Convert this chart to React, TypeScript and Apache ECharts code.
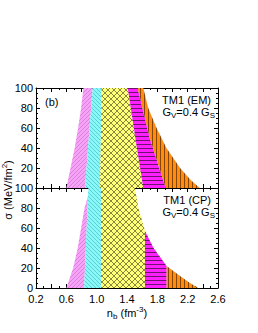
import React, { useEffect, useRef } from "react";
import * as echarts from "echarts";

// ---- Data (n_b in fm^-3, sigma in MeV/fm^2) ----
const xTicks = [0.2, 0.6, 1.0, 1.4, 1.8, 2.2, 2.6];
const yTicks = [0, 20, 40, 60, 80, 100];

// Top panel: TM1 (EM)
const emPink = [[0.60, 0], [0.655, 20], [0.71, 40], [0.755, 60], [0.795, 80], [0.825, 100], [0.947, 100], [0.846, 0]];
const emCyan = [[0.846, 0], [0.947, 100], [1.066, 100], [1.044, 0]];
const emYellow = [[1.044, 0], [1.066, 100], [1.41, 100], [1.51, 50], [1.615, 0]];
const emMagenta = [[1.615, 0], [1.51, 50], [1.41, 100], [1.54, 100], [1.70, 50], [1.91, 0]];
const emOrange = [[1.91, 0], [1.70, 50], [1.54, 100], [1.615, 100], [1.68, 80], [1.79, 60], [1.92, 40], [2.10, 20], [2.24, 8], [2.36, 0]];

// Bottom panel: TM1 (CP)
const cpPink = [[0.60, 0], [0.69, 20], [0.75, 40], [0.795, 60], [0.84, 80], [0.886, 92], [0.835, 0]];
const cpCyan = [[0.835, 0], [0.89, 100], [1.057, 100], [1.057, 0]];
const cpYellow = [[1.057, 0], [1.057, 100], [1.505, 100], [1.55, 80], [1.637, 57], [1.637, 0]];
const cpMagenta = [[1.637, 0], [1.637, 57], [1.75, 40], [1.923, 22], [1.923, 0]];
const cpOrange = [[1.923, 0], [1.923, 22], [2.10, 12], [2.23, 5], [2.34, 0]];

const emRegions = [emPink, emCyan, emYellow, emMagenta, emOrange];
const cpRegions = [cpPink, cpCyan, cpYellow, cpMagenta, cpOrange];

const FONT = "Liberation Sans, Arial, sans-serif";

function makePattern(bg: string, fg: string, kind: string, s: number, lw = 1) {
  const c = document.createElement("canvas");
  c.width = s;
  c.height = s;
  const ctx = c.getContext("2d")!;
  ctx.fillStyle = bg;
  ctx.fillRect(0, 0, s, s);
  ctx.strokeStyle = fg;
  ctx.fillStyle = fg;
  ctx.lineWidth = lw;
  const slash = () => {
    for (const o of [-s, 0, s]) {
      ctx.beginPath();
      ctx.moveTo(o, s);
      ctx.lineTo(o + s, 0);
      ctx.stroke();
    }
  };
  const back = () => {
    for (const o of [-s, 0, s]) {
      ctx.beginPath();
      ctx.moveTo(o, 0);
      ctx.lineTo(o + s, s);
      ctx.stroke();
    }
  };
  if (kind === "slash") slash();
  else if (kind === "back") back();
  else if (kind === "cross") {
    slash();
    back();
  } else if (kind === "h") ctx.fillRect(0, 0, s, lw);
  else if (kind === "v") ctx.fillRect(0, 0, lw, s);
  return { image: c, repeat: "repeat" };
}

export default function App() {
  const ref = useRef<HTMLDivElement>(null);
  useEffect(() => {
    document.body.style.margin = "0";
    const chart = echarts.init(ref.current!, null, { renderer: "svg" });
    const patterns = [
      makePattern("#f4a4f4", "#dc74dc", "slash", 4, 0.8),
      makePattern("#88f8f8", "#50c4cc", "back", 4, 0.8),
      makePattern("#ffff78", "#6a6a30", "cross", 6, 0.8),
      makePattern("#ff20ff", "#4a104a", "h", 4, 0.8),
      makePattern("#ff8c10", "#6a3400", "v", 4, 0.8),
    ];
    const left = 36,
      width = 182;
    const tickCommon = { inside: true, length: 4, lineStyle: { color: "#000" } };
    const minorCommon = { show: true, length: 2, lineStyle: { color: "#000" } };
    const lineCommon = { show: true, lineStyle: { color: "#000", width: 1 } };
    const xBase = (grid: number, pos: string, labels: boolean) => ({
      type: "value",
      gridIndex: grid,
      position: pos,
      min: 0.2,
      max: 2.6,
      interval: 0.2,
      axisLine: { ...lineCommon, onZero: false },
      axisTick: tickCommon,
      minorTick: { ...minorCommon, splitNumber: 2 },
      splitLine: { show: false },
      axisLabel: {
        show: labels,
        margin: 5,
        fontSize: 11,
        fontFamily: FONT,
        color: "#000",
        formatter: (v: number) => {
          const s = v.toFixed(1);
          return xTicks.some((t) => t.toFixed(1) === s) ? s : "";
        },
      },
    });
    const yBase = (grid: number, pos: string, labels: boolean, hideZero: boolean) => ({
      type: "value",
      gridIndex: grid,
      position: pos,
      min: 0,
      max: 100,
      interval: 20,
      axisLine: { ...lineCommon, onZero: false },
      axisTick: tickCommon,
      minorTick: { ...minorCommon, splitNumber: 4 },
      splitLine: { show: false },
      axisLabel: {
        show: labels,
        margin: 3,
        fontSize: 11,
        fontFamily: FONT,
        color: "#000",
        formatter: (v: number) => (hideZero && v === 0 ? "" : yTicks.includes(v) ? String(v) : ""),
      },
    });
    const mkSeries = (regions: number[][][], axis: number) => ({
      type: "custom",
      xAxisIndex: axis,
      yAxisIndex: axis,
      clip: true,
      silent: true,
      data: regions.map((_, i) => [i, 0]),
      renderItem: (params: any, api: any) => {
        const poly = regions[params.dataIndex];
        return {
          type: "polygon",
          shape: { points: poly.map((p) => api.coord(p)) },
          style: { fill: patterns[params.dataIndex], stroke: null },
        };
      },
    });
    const sub = { fontSize: 8, fontFamily: FONT, color: "#000", verticalAlign: "bottom", lineHeight: 15, padding: [5, 0, 0, 0] };
    const sup = { fontSize: 8, fontFamily: FONT, color: "#000", verticalAlign: "top", lineHeight: 15 };
    const txt = (x: number, y: number, text: string, align = "right", extra: any = {}) => ({
      type: "text",
      x,
      y,
      z: 10,
      style: {
        text,
        x: 0,
        y: 0,
        align,
        verticalAlign: "middle",
        fontSize: 11,
        fontFamily: FONT,
        fill: "#000",
        rich: { s: sub, p: sup, n: { fontSize: 11, fontFamily: FONT, color: "#000", lineHeight: 15 } },
        ...extra,
      },
    });
    chart.setOption({
      animation: false,
      grid: [
        { left, width, top: 88, height: 100 },
        { left, width, top: 188, height: 100 },
      ],
      xAxis: [xBase(0, "bottom", false), xBase(0, "top", false), xBase(1, "bottom", true), xBase(1, "top", false)],
      yAxis: [yBase(0, "left", true, true), yBase(0, "right", false, false), yBase(1, "left", true, false), yBase(1, "right", false, false)],
      series: [mkSeries(emRegions, 0), mkSeries(cpRegions, 2)],
      graphic: [
        txt(45, 102, "(b)", "left"),
        txt(211, 100, "TM1 (EM)"),
        txt(215, 112, "{n|G}{s|V}{n|=0.4 G}{s|S}"),
        txt(211, 200, "TM1 (CP)"),
        txt(215, 212, "{n|G}{s|V}{n|=0.4 G}{s|S}"),
        txt(127, 313, "{n|n}{s|b}{n| (fm}{p|-3}{n|)}", "center", { fontSize: 12 }),
        {
          type: "text",
          x: 8,
          y: 190,
          rotation: Math.PI / 2,
          z: 10,
          style: {
            text: "{n|σ (MeV/fm}{p|2}{n|)}",
            align: "center",
            verticalAlign: "middle",
            fontSize: 11,
            fontFamily: FONT,
            fill: "#000",
            rich: { p: sup, n: { fontSize: 11, fontFamily: FONT, color: "#000", lineHeight: 15 } },
          },
        },
      ],
    });
    return () => chart.dispose();
  }, []);
  return <div ref={ref} style={{ width: 258, height: 333 }} />;
}
